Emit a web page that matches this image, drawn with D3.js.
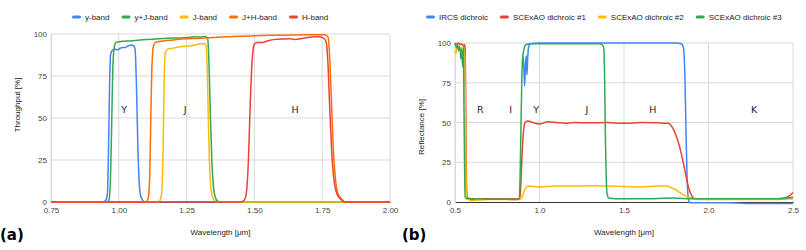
<!DOCTYPE html>
<html>
<head>
<meta charset="utf-8">
<script src="https://cdnjs.cloudflare.com/ajax/libs/d3/7.8.5/d3.min.js"></script>
<style>
  body { margin: 0; background: #fff; }
  svg text { font-family: "Liberation Sans", Arial, sans-serif; }
</style>
</head>
<body>
<div id="chart"></div>
<script>
// panel (a): filter throughput, [wavelength um, %]
var yBand = [[0.75,0],[0.94,0],[0.952,1],[0.958,5],[0.962,30],[0.966,70],[0.97,88],[0.975,90],[0.985,91],[0.995,90.5],[1.005,91.5],[1.015,92],[1.025,92],[1.035,93],[1.045,93.5],[1.055,93],[1.06,91],[1.065,70],[1.07,35],[1.075,12],[1.08,4],[1.088,1],[1.095,0],[2.0,0]];
var yjBand = [[0.75,0],[0.955,0],[0.963,1],[0.968,8],[0.973,40],[0.978,80],[0.984,93],[0.99,95],[1.05,96],[1.1,96.7],[1.15,97.2],[1.2,97.6],[1.25,97.8],[1.28,98.3],[1.3,98.2],[1.32,98.5],[1.328,97],[1.333,80],[1.338,50],[1.343,25],[1.35,8],[1.358,2],[1.37,0],[2.0,0]];
var jBand = [[0.75,0],[1.145,0],[1.152,1],[1.158,5],[1.163,30],[1.167,70],[1.172,89],[1.18,91],[1.2,91.5],[1.22,92.3],[1.24,92.6],[1.26,92.8],[1.28,93.5],[1.3,94.2],[1.315,94.3],[1.322,93],[1.326,80],[1.33,50],[1.334,25],[1.34,8],[1.348,2],[1.36,0],[2.0,0]];
var jhBand = [[0.75,0],[1.1,0],[1.108,2],[1.114,15],[1.118,50],[1.122,80],[1.128,93],[1.135,95],[1.2,96.5],[1.3,97.5],[1.4,98.3],[1.5,99],[1.6,99.3],[1.7,99.6],[1.76,99.6],[1.772,98],[1.778,85],[1.784,60],[1.79,35],[1.798,15],[1.808,5],[1.82,2],[1.84,0],[2.0,0]];
var hBand = [[0.75,0],[1.45,0],[1.462,1],[1.47,5],[1.478,25],[1.485,60],[1.492,85],[1.5,94],[1.51,95],[1.53,95],[1.55,96],[1.58,96.8],[1.6,97],[1.63,97.2],[1.65,96.8],[1.68,97.5],[1.71,98.2],[1.735,98.3],[1.755,97.5],[1.765,95],[1.772,80],[1.778,55],[1.785,30],[1.792,15],[1.8,7],[1.815,2],[1.835,0],[2.0,0]];

// panel (b): dichroic reflectance
var ircs = [[0.9,90],[0.905,91],[0.912,73],[0.918,88],[0.922,92],[0.926,80],[0.93,90],[0.935,97],[0.945,99.5],[1.0,100],[1.2,100],[1.4,100],[1.6,100],[1.8,100],[1.84,99.5],[1.852,97],[1.86,80],[1.866,50],[1.872,20],[1.878,5],[1.885,0],[1.9,-0.5],[2.1,-0.5],[2.3,-1],[2.5,-1]];
var scexao1 = [[0.5,100],[0.51,99],[0.52,100],[0.53,99],[0.54,99.5],[0.55,98],[0.555,99],[0.56,97],[0.563,70],[0.566,30],[0.57,5],[0.575,2],[0.6,2],[0.7,2],[0.8,2],[0.88,2],[0.885,4],[0.89,12],[0.897,30],[0.905,44],[0.915,50],[0.93,51],[0.96,50],[1.0,49],[1.05,50.5],[1.1,50],[1.15,49.5],[1.2,50],[1.3,49.8],[1.4,50],[1.5,49.5],[1.6,50],[1.7,49.8],[1.76,49.5],[1.78,48],[1.8,44],[1.82,38],[1.84,30],[1.86,20],[1.88,10],[1.9,4],[1.92,2],[2.0,2],[2.2,2],[2.4,2],[2.45,2.5],[2.48,4],[2.5,6]];
var scexao2 = [[0.5,95],[0.505,93],[0.51,97],[0.52,98],[0.53,95],[0.54,97],[0.55,96],[0.558,92],[0.562,50],[0.566,10],[0.57,2],[0.58,1.5],[0.6,1],[0.7,1.5],[0.8,1.5],[0.88,1.5],[0.89,2],[0.9,4],[0.91,7],[0.92,9],[0.93,10],[1.0,9.5],[1.1,10],[1.2,10],[1.3,10.2],[1.4,10],[1.5,9.8],[1.6,9.5],[1.7,10],[1.75,10],[1.78,9],[1.8,8],[1.83,6],[1.86,4],[1.9,2.5],[1.93,1.8],[2.0,1.5],[2.2,1.5],[2.4,1.5],[2.5,2]];
var scexao3 = [[0.5,100],[0.51,97],[0.515,99],[0.52,95],[0.525,98],[0.53,96],[0.535,90],[0.54,96],[0.545,85],[0.55,97],[0.553,60],[0.557,20],[0.56,3],[0.57,2],[0.58,2.5],[0.6,1.5],[0.62,2],[0.7,1.8],[0.8,1.8],[0.87,1.5],[0.88,2],[0.885,15],[0.89,45],[0.895,75],[0.9,90],[0.91,97],[0.92,99],[0.95,99.5],[1.0,99.5],[1.1,99.6],[1.2,99.5],[1.3,99.6],[1.35,99.5],[1.37,99],[1.38,97],[1.385,80],[1.39,40],[1.395,15],[1.4,5],[1.41,2.5],[1.45,2],[1.5,2],[1.6,2],[1.8,2.5],[1.9,2],[2.0,2],[2.2,2],[2.4,2],[2.5,3]];

var seriesA = [
  {name: "y-band", color: "#4285f4", values: yBand},
  {name: "y+J-band", color: "#34a853", values: yjBand},
  {name: "J-band", color: "#fbbc04", values: jBand},
  {name: "J+H-band", color: "#ff6d01", values: jhBand},
  {name: "H-band", color: "#ea4335", values: hBand}
];
var seriesB = [
  {name: "IRCS dichroic", color: "#4285f4", values: ircs},
  {name: "SCExAO dichroic #1", color: "#ea4335", values: scexao1},
  {name: "SCExAO dichroic #2", color: "#fbbc04", values: scexao2},
  {name: "SCExAO dichroic #3", color: "#34a853", values: scexao3}
];

var xTicksA = [0.75, 1.00, 1.25, 1.50, 1.75, 2.00];
var xTicksB = [0.5, 1.0, 1.5, 2.0, 2.5];
var yTicks = [0, 25, 50, 75, 100];
var bandLabelsA = [["Y", 1.02], ["J", 1.245], ["H", 1.65]];
var bandLabelsB = [["R", 0.65], ["I", 0.83], ["Y", 0.98], ["J", 1.28], ["H", 1.67], ["K", 2.27]];

var svg = d3.select("#chart").append("svg")
  .attr("width", 806)
  .attr("height", 250);

function drawPanel(opt) {
  var x = d3.scaleLinear().domain(opt.xDomain).range([opt.left, opt.right]);
  var y = d3.scaleLinear().domain([0, 100]).range([opt.bottom, opt.top]);
  var g = svg.append("g");

  // grid
  g.selectAll(".hgrid").data(yTicks.slice(1)).enter().append("line")
    .attr("x1", opt.left).attr("x2", opt.right)
    .attr("y1", d => y(d)).attr("y2", d => y(d))
    .attr("stroke", "#d9d9d9").attr("stroke-width", 1);
  g.selectAll(".vgrid").data(opt.xTicks).enter().append("line")
    .attr("x1", d => x(d)).attr("x2", d => x(d))
    .attr("y1", opt.top).attr("y2", opt.bottom)
    .attr("stroke", "#d9d9d9").attr("stroke-width", 1);

  // axes
  var xAxis = g.append("g")
    .attr("transform", `translate(0, ${opt.bottom})`)
    .call(d3.axisBottom(x).tickValues(opt.xTicks).tickFormat(opt.xFormat).tickSize(0).tickPadding(5));
  xAxis.select(".domain").attr("stroke", "#333");
  xAxis.selectAll("text").attr("font-size", 8).attr("fill", "#444");

  var yAxis = g.append("g")
    .attr("transform", `translate(${opt.left}, 0)`)
    .call(d3.axisLeft(y).tickValues(yTicks).tickSize(0).tickPadding(4));
  yAxis.select(".domain").attr("stroke", "#d9d9d9");
  yAxis.selectAll("text").attr("font-size", 8).attr("fill", "#444");

  // curves
  var line = d3.line()
    .x(d => x(d[0]))
    .y(d => y(d[1]))
    .curve(d3.curveMonotoneX);
  g.selectAll(".curve").data(opt.series).enter().append("path")
    .attr("d", d => line(d.values))
    .attr("fill", "none")
    .attr("stroke", d => d.color)
    .attr("stroke-width", 1.5)
    .attr("stroke-linejoin", "round");

  // band labels
  g.selectAll(".band").data(opt.bands).enter().append("text")
    .attr("x", d => x(d[1]))
    .attr("y", 113)
    .attr("text-anchor", "middle")
    .style("font-family", "'DejaVu Sans', sans-serif")
    .attr("font-size", 9.5)
    .attr("fill", "#222")
    .text(d => d[0]);

  // legend
  var lx = opt.legendX;
  opt.series.forEach(function(s) {
    g.append("line")
      .attr("x1", lx + 1.5).attr("x2", lx + 7.5)
      .attr("y1", 17).attr("y2", 17)
      .attr("stroke", s.color).attr("stroke-width", 3)
      .attr("stroke-linecap", "round");
    var t = g.append("text")
      .attr("x", lx + 13).attr("y", 20)
      .attr("font-size", 8).attr("fill", "#222")
      .text(s.name);
    lx += 13 + t.node().getComputedTextLength() + 12;
  });

  // axis titles
  g.append("text")
    .attr("transform", `translate(${opt.yTitleX}, ${opt.yTitleY}) rotate(-90)`)
    .attr("text-anchor", "middle")
    .attr("font-size", 8).attr("fill", "#222")
    .text(opt.yTitle);
  g.append("text")
    .attr("x", (opt.left + opt.right) / 2).attr("y", 235)
    .attr("text-anchor", "middle")
    .attr("font-size", 8).attr("fill", "#222")
    .text("Wavelength [μm]");

  g.append("text")
    .attr("x", opt.tagX).attr("y", 240)
    .style("font-family", "'DejaVu Sans', sans-serif")
    .attr("font-weight", "bold")
    .attr("font-size", 15).attr("fill", "#000")
    .text(opt.tag);
}

drawPanel({
  series: seriesA, xDomain: [0.75, 2.0], xTicks: xTicksA, xFormat: d3.format(".2f"),
  left: 51, right: 390, top: 34, bottom: 202,
  bands: bandLabelsA, legendX: 72,
  yTitle: "Throughput [%]", yTitleX: 20, yTitleY: 105,
  tag: "(a)", tagX: 0
});
drawPanel({
  series: seriesB, xDomain: [0.5, 2.5], xTicks: xTicksB, xFormat: d3.format(".1f"),
  left: 455, right: 793, top: 43, bottom: 202,
  bands: bandLabelsB, legendX: 426,
  yTitle: "Reflectance  [%]", yTitleX: 424, yTitleY: 127,
  tag: "(b)", tagX: 402
});
</script>
</body>
</html>
